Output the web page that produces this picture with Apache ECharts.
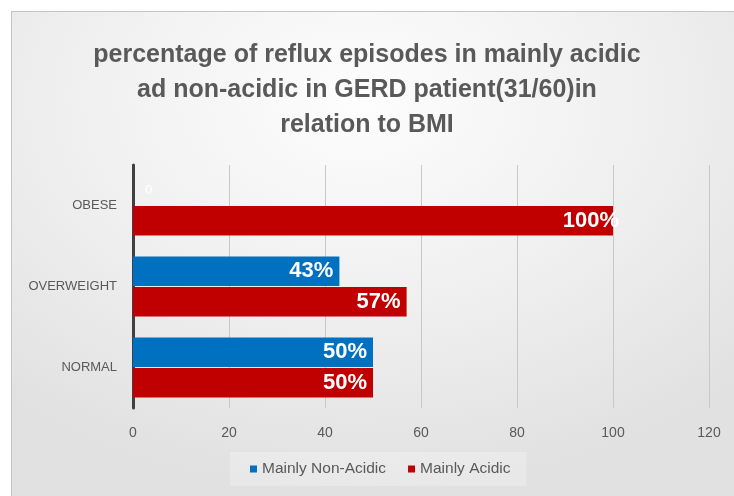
<!DOCTYPE html>
<html>
<head>
<meta charset="utf-8">
<script src="https://cdn.jsdelivr.net/npm/echarts@6/dist/echarts.min.js"></script>
<style>
  html, body { margin: 0; padding: 0; background: #fff; overflow: hidden; }
  .frame {
    position: absolute; left: 11px; top: 11px; width: 723px; height: 485px;
    border-left: 1px solid #c4c4c4; border-top: 1px solid #c4c4c4;
    background: radial-gradient(ellipse 75% 80% at 48% 18%, #fdfdfd 0%, #efefef 55%, #e1e1e1 100%);
  }
  #chart { position: absolute; left: 0; top: 0; width: 734px; height: 496px; }
</style>
</head>
<body>
<div class="frame"></div>
<div id="chart"></div>
<script>
// BMI groups, bottom -> top
const categories = ['NORMAL', 'OVERWEIGHT', 'OBESE']
const nonAcidic = [50, 43, 0]
const acidic = [50, 57, 100]
const xTicks = [0, 20, 40, 60, 80, 100, 120]

const chart = echarts.init(document.getElementById('chart'))

const labelStyle = {
  show: true,
  position: 'insideRight',
  distance: 6,
  color: '#fff',
  fontSize: 22,
  fontWeight: 'bold',
  fontFamily: 'Liberation Sans, Arial',
  formatter: p => p.value + '%'
}

// zero value: small plain "0" just right of the axis
const toItems = arr => arr.map(v => v === 0
  ? { value: v, label: { position: 'right', distance: 12, fontSize: 13, fontWeight: 'normal', formatter: '0', color: '#fff' } }
  : v === 100 ? { value: v, label: { offset: [12, 0] } } : v)

chart.setOption({
  backgroundColor: 'transparent',
  animation: false,
  title: {
    text: 'percentage of reflux episodes in mainly acidic\nad non-acidic in GERD patient(31/60)in\nrelation to BMI',
    left: 'center',
    top: 33,
    textStyle: {
      color: '#595959',
      fontSize: 25,
      fontWeight: 'bold',
      lineHeight: 35,
      fontFamily: 'Liberation Sans, Arial'
    }
  },
  legend: {
    data: ['Mainly Non-Acidic', 'Mainly Acidic'],
    left: 230,
    top: 452,
    padding: [9, 16, 9, 20],
    backgroundColor: 'rgba(255,255,255,0.25)',
    icon: 'rect',
    itemWidth: 7,
    itemHeight: 7,
    itemGap: 22,
    textStyle: { color: '#595959', fontSize: 15.5, fontFamily: 'Liberation Sans, Arial' }
  },
  grid: { left: 133, right: 25, top: 165, bottom: 88, containLabel: false },
  xAxis: {
    type: 'value',
    min: xTicks[0],
    max: xTicks[xTicks.length - 1],
    interval: 20,
    axisLine: { show: false },
    axisTick: { show: false },
    axisLabel: { color: '#595959', fontSize: 14, margin: 18, fontFamily: 'Liberation Sans, Arial' },
    splitLine: { show: true, lineStyle: { color: '#c8c8c8', width: 1 } }
  },
  yAxis: {
    type: 'category',
    data: categories,
    axisLine: { show: true, lineStyle: { color: '#404040', width: 3 } },
    axisTick: { show: false },
    axisLabel: { color: '#595959', fontSize: 13, margin: 16, fontFamily: 'Liberation Sans, Arial' },
    splitLine: { show: false }
  },
  series: [
    {
      name: 'Mainly Non-Acidic',
      type: 'bar',
      barGap: '3%',
      barCategoryGap: '26%',
      itemStyle: { color: '#0070c0' },
      label: labelStyle,
      data: toItems(nonAcidic)
    },
    {
      name: 'Mainly Acidic',
      type: 'bar',
      itemStyle: { color: '#c00000' },
      label: labelStyle,
      data: toItems(acidic)
    }
  ]
})
</script>
</body>
</html>
